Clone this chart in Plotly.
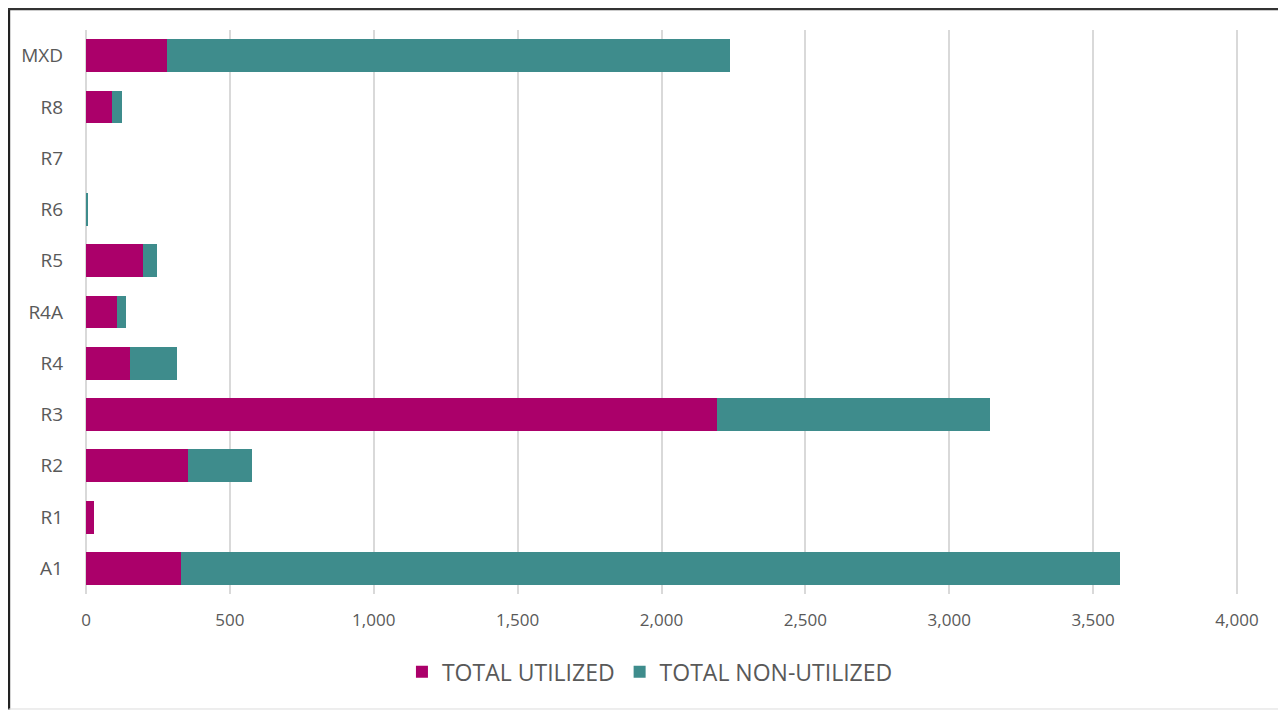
import plotly.graph_objects as go

categories = ["A1", "R1", "R2", "R3", "R4", "R4A", "R5", "R6", "R7", "R8", "MXD"]
utilized = [330, 29, 353, 2192, 152, 109, 199, 0, 0, 92, 280]
non_utilized = [3264, 0, 225, 948, 165, 30, 47, 7, 0, 32, 1958]
x_ticks = [0, 500, 1000, 1500, 2000, 2500, 3000, 3500, 4000]
x_tick_labels = ["0", "500", "1,000", "1,500", "2,000", "2,500", "3,000", "3,500", "4,000"]

FONT = "Open Sans"
GRAY = "#595959"

fig = go.Figure()
fig.add_trace(go.Bar(y=categories, x=utilized, orientation="h", name="TOTAL UTILIZED",
                     marker=dict(color="#AB006A", line=dict(width=0))))
fig.add_trace(go.Bar(y=categories, x=non_utilized, orientation="h", name="TOTAL NON-UTILIZED",
                     marker=dict(color="#3E8C8C", line=dict(width=0))))

fig.update_layout(
    width=1278, height=702,
    barmode="stack", bargap=0.36,
    paper_bgcolor="white", plot_bgcolor="white",
    margin=dict(l=76, r=47, t=22, b=116),
    font=dict(family=FONT, color=GRAY, size=17),
    showlegend=True,
    legend=dict(orientation="h", x=0.49, xanchor="center", y=-0.138, yanchor="middle",
                font=dict(size=23, color=GRAY), traceorder="normal"),
    xaxis=dict(range=[-7, 4007], tickvals=x_ticks, ticktext=x_tick_labels,
               showgrid=True, gridcolor="#D9D9D9", gridwidth=1.5, zeroline=False,
               showline=False, ticks="", ticklabelstandoff=14,
               tickfont=dict(size=17, color=GRAY)),
    yaxis=dict(showgrid=False, zeroline=False, showline=False, ticks="",
               ticklabelstandoff=20, tickfont=dict(size=19, color=GRAY)),
)

# outer frame
fig.add_shape(type="line", xref="paper", yref="paper", x0=-0.0652, x1=-0.0652, y0=1.038, y1=-0.205,
              line=dict(color="#222222", width=3))
fig.add_shape(type="line", xref="paper", yref="paper", x0=-0.066, x1=1.042, y0=1.0372, y1=1.0372,
              line=dict(color="#333333", width=2.5))
fig.add_shape(type="line", xref="paper", yref="paper", x0=1.0395, x1=1.0395, y0=1.038, y1=-0.205,
              line=dict(color="#888888", width=2))
fig.add_shape(type="line", xref="paper", yref="paper", x0=-0.0652, x1=1.0395, y0=-0.2039, y1=-0.2039,
              line=dict(color="#DDDDDD", width=1))

fig.write_html("out.html")
